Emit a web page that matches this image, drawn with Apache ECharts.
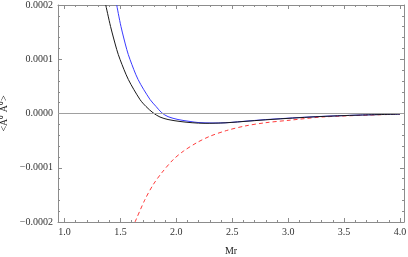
<!DOCTYPE html>
<html><head><meta charset="utf-8">
<script src="https://cdn.jsdelivr.net/npm/echarts@6/dist/echarts.min.js"></script>
<style>html,body{margin:0;padding:0;background:#fff}#c{width:408px;height:257px}</style>
</head><body><div id="c"></div>
<script>
// Data
const blackX = [1.369, 1.412, 1.467, 1.497, 1.571, 1.675, 1.729, 1.792, 1.854, 1.926, 2.033, 2.141, 2.257, 2.436, 2.659, 2.838, 3.241, 3.644, 4.0];
const blackY = [2.0e-4, 1.604e-4, 1.180e-4, 0.995e-4, 0.627e-4, 0.258e-4, 0.129e-4, 0.013e-4, -0.065e-4, -0.111e-4, -0.147e-4, -0.170e-4, -0.181e-4, -0.172e-4, -0.138e-4, -0.111e-4, -0.061e-4, -0.029e-4, -0.012e-4];

const blueX = [1.467, 1.505, 1.557, 1.586, 1.658, 1.765, 1.819, 1.870, 1.926, 2.015, 2.123, 2.194, 2.319, 2.436, 2.659, 2.838, 3.241, 3.644, 4.0];
const blueY = [2.0e-4, 1.604e-4, 1.180e-4, 0.995e-4, 0.627e-4, 0.258e-4, 0.129e-4, 0.013e-4, -0.058e-4, -0.111e-4, -0.147e-4, -0.166e-4, -0.175e-4, -0.171e-4, -0.135e-4, -0.107e-4, -0.059e-4, -0.028e-4, -0.011e-4];

const redX = [1.631, 1.720, 1.794, 1.870, 1.973, 2.063, 2.183, 2.302, 2.451, 2.615, 2.794, 3.017, 3.330, 4.0];
const redY = [-2.0e-4, -1.585e-4, -1.309e-4, -1.093e-4, -0.848e-4, -0.695e-4, -0.538e-4, -0.418e-4, -0.313e-4, -0.230e-4, -0.171e-4, -0.123e-4, -0.061e-4, -0.012e-4];

const xMin = 0.942, xMax = 4.036;
const yMin = -0.0002, yMax = 0.0002, yStep = 0.0001;
const xTitle = 'Mr';
const yTitle = '<A\u2070 A\u2070>';

const frameColor = '#8c8c8c';
const font = 'Liberation Serif, Times New Roman, serif';
const pair = (xs, ys) => xs.map((x, i) => [x, ys[i]]);
function fmtY(v) {
  if (Math.abs(v) < 1e-12) return '0.0000';
  return (v < 0 ? '\u2212' : '') + Math.abs(v).toFixed(4);
}
const tickCommon = {
  axisLine: {show: true, onZero: false, lineStyle: {color: frameColor, width: 1}},
  axisTick: {show: true, inside: true, length: 4, lineStyle: {color: frameColor}},
  minorTick: {show: true, splitNumber: 5, length: 2, lineStyle: {color: frameColor}},
  splitLine: {show: false},
  minorSplitLine: {show: false}
};

const chart = echarts.init(document.getElementById('c'), null, {renderer: 'canvas'});
chart.setOption({
  animation: false,
  backgroundColor: '#fff',
  grid: {left: 58, right: 4, top: 5, bottom: 35, containLabel: false, outerBoundsMode: 'none'},
  xAxis: [
    Object.assign({
      type: 'value', min: xMin, max: xMax, position: 'bottom',
      name: xTitle, nameLocation: 'middle', nameGap: 24,
      nameTextStyle: {fontFamily: font, fontSize: 10, color: '#222'},
      axisLabel: {show: true, margin: 5, fontFamily: font, fontSize: 10, color: '#333',
        showMinLabel: false, showMaxLabel: false,
        formatter: v => v.toFixed(1)}
    }, tickCommon),
    Object.assign({
      type: 'value', min: xMin, max: xMax, position: 'top',
      axisLabel: {show: false}
    }, tickCommon)
  ],
  yAxis: [
    Object.assign({
      type: 'value', min: yMin, max: yMax, interval: yStep, position: 'left',
      name: yTitle, nameLocation: 'middle', nameGap: 44, nameRotate: 90,
      nameTextStyle: {fontFamily: font, fontSize: 10, color: '#222'},
      axisLabel: {show: true, margin: 5, fontFamily: font, fontSize: 10, color: '#333', formatter: fmtY}
    }, tickCommon),
    Object.assign({
      type: 'value', min: yMin, max: yMax, interval: yStep, position: 'right',
      axisLabel: {show: false}
    }, tickCommon)
  ],
  series: [
    {
      type: 'line', name: 'zero', data: [], xAxisIndex: 0, yAxisIndex: 0,
      markLine: {silent: true, symbol: 'none', label: {show: false},
        lineStyle: {color: '#a0a0a0', width: 1, type: 'solid'}, data: [{yAxis: 0}]}
    },
    {
      type: 'line', name: 'red', data: pair(redX, redY), showSymbol: false, smooth: 0.3,
      lineStyle: {color: '#ff3b3b', width: 1, type: [4, 3]}, clip: true
    },
    {
      type: 'line', name: 'blue', data: pair(blueX, blueY), showSymbol: false, smooth: 0.3,
      lineStyle: {color: '#3a3aff', width: 1}, clip: true
    },
    {
      type: 'line', name: 'black', data: pair(blackX, blackY), showSymbol: false, smooth: 0.3,
      lineStyle: {color: '#1a1a1a', width: 1}, clip: true
    }
  ]
});
</script>
</body></html>
